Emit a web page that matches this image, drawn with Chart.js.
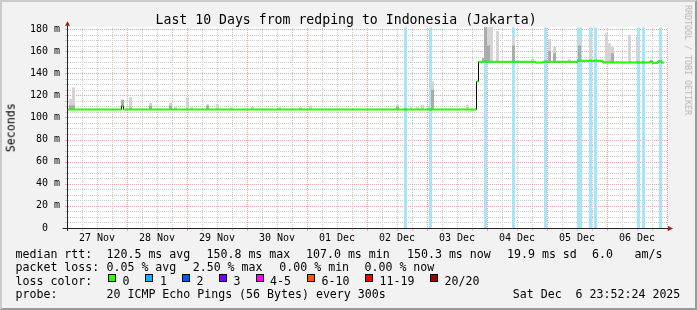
<!DOCTYPE html>
<html><head><meta charset="utf-8">
<script src="https://cdn.jsdelivr.net/npm/chart.js@4/dist/chart.umd.min.js"></script>
<style>
html,body{margin:0;padding:0;}
body{width:697px;height:310px;background:#f2f2f2;position:relative;overflow:hidden;font-family:'DejaVu Sans Mono',monospace;}
#c{position:absolute;left:0;top:0;}
.t{position:absolute;white-space:pre;font-size:11.6px;line-height:1;color:#000;}
.box{position:absolute;width:8px;height:8px;box-sizing:border-box;border:1px solid #000;top:274px;}
#frame{position:absolute;left:0;top:0;width:697px;height:310px;box-sizing:border-box;border:2px solid;border-color:#cbcbcb #9a9a9a #9a9a9a #cbcbcb;pointer-events:none;}
</style></head>
<body>
<canvas id="c" width="697" height="310"></canvas>
<div class="t" style="left:155.5px;top:12.8px;font-size:13.2px;">Last 10 Days from redping to Indonesia (Jakarta)</div>
<div class="t" style="left:-13.5px;top:121.7px;transform:rotate(-90deg);">Seconds</div>
<div class="t" style="left:632.5px;top:55.8px;font-size:8.3px;color:#b4b4b4;transform:rotate(90deg);">RRDTOOL / TOBI OETIKER</div>

<div class="t" style="left:15.5px;top:248.5px;">median rtt:</div>
<div class="t" style="left:106.5px;top:248.5px;">120.5 ms avg</div>
<div class="t" style="left:206.5px;top:248.5px;">150.8 ms max</div>
<div class="t" style="left:306px;top:248.5px;">107.0 ms min</div>
<div class="t" style="left:407px;top:248.5px;">150.3 ms now</div>
<div class="t" style="left:507px;top:248.5px;">19.9 ms sd</div>
<div class="t" style="left:592px;top:248.5px;">6.0</div>
<div class="t" style="left:634.5px;top:248.5px;">am/s</div>

<div class="t" style="left:15.5px;top:261.9px;">packet loss:</div>
<div class="t" style="left:106.5px;top:261.9px;">0.05 % avg</div>
<div class="t" style="left:192.7px;top:261.9px;">2.50 % max</div>
<div class="t" style="left:279.3px;top:261.9px;">0.00 % min</div>
<div class="t" style="left:364.5px;top:261.9px;">0.00 % now</div>

<div class="t" style="left:15.5px;top:275.7px;">loss color:</div>
<div class="box" style="left:108px;background:#26ff00;"></div><div class="t" style="left:122.5px;top:275.7px;">0</div>
<div class="box" style="left:145px;background:#00b8ff;"></div><div class="t" style="left:160px;top:275.7px;">1</div>
<div class="box" style="left:182px;background:#0059ff;"></div><div class="t" style="left:196.5px;top:275.7px;">2</div>
<div class="box" style="left:219px;background:#7e00ff;"></div><div class="t" style="left:233.5px;top:275.7px;">3</div>
<div class="box" style="left:256px;background:#ff00ff;"></div><div class="t" style="left:270px;top:275.7px;">4-5</div>
<div class="box" style="left:307px;background:#ff5500;"></div><div class="t" style="left:321.5px;top:275.7px;">6-10</div>
<div class="box" style="left:365px;background:#ff0000;"></div><div class="t" style="left:379.5px;top:275.7px;">11-19</div>
<div class="box" style="left:430px;background:#a10000;"></div><div class="t" style="left:444.5px;top:275.7px;">20/20</div>

<div class="t" style="left:15.5px;top:289.2px;">probe:</div>
<div class="t" style="left:106.5px;top:289.2px;">20 ICMP Echo Pings (56 Bytes) every 300s</div>
<div class="t" style="left:512.8px;top:289.2px;">Sat Dec  6 23:52:24 2025</div>
<div id="frame"></div>

<script>
// ---- data (hours since 27 Nov 00:00) ----
const dayLabels = ['27 Nov','28 Nov','29 Nov','30 Nov','01 Dec','02 Dec','03 Dec','04 Dec','05 Dec','06 Dec'];
const yLabels = ['0  ','20 m','40 m','60 m','80 m','100 m','120 m','140 m','160 m','180 m'];

// median rtt (ms): step runs
const medianStart = [0, 21.8, 22.6, 163.8, 164.6, 187.6, 190.4, 204.4, 214.4, 233.2, 234.0, 236.4, 237.8];
const medianValue = [107.2, 110.5, 107.2, 132.5, 150.3, 149.6, 150.3, 151.2, 149.8, 151.0, 149.4, 150.8, 149.6];
const medianEnd = 238.8;

// packet loss samples (1 of 20 lost)
const lossHours = [135.4, 145.4, 167.4, 178.6, 191.4, 204.6, 205.4, 209.4, 211.4, 228.6, 230.6, 237.4];

// smoke (ping spread): sample time, max rtt, inner (denser) rtt
const smokeHours = [1.4, 2.6, 22.2, 25.4, 33.4, 41.4, 43.4, 48.2, 49.8, 56.2, 60.2, 65.8, 74.2, 85, 93.4, 97.4,
  132.2, 137.8, 140.2, 142.2, 145, 146.2, 160.2,
  166.6, 167.4, 168.6, 169.8, 172.2, 178.6, 186.2, 193, 195, 201, 205, 209.4, 215.8, 217, 218.2, 225, 228.2];
const smokeMax = [116.8, 127, 116, 118, 113, 113, 109.5, 118, 109.3, 112, 112, 109.3, 110, 109.3, 109.3, 110.8,
  111.4, 109.3, 109.3, 111.4, 109.5, 132.5, 111.4,
  153.5, 195, 195, 195, 178, 172.5, 153, 171, 164, 152.5, 172.5, 171, 176.3, 167, 164, 174.8, 173];
const smokeInner = [110.8, 111, 116, 109, 110.5, 110.5, null, null, null, 110.8, null, null, null, null, null, null,
  110, null, null, null, null, 125, null,
  153.5, 195, 165, null, null, 165, null, 160, 158, null, 165, null, null, null, 158, null, null];

const Y_MAX = 181.5;

function medianAt(h){ let v = medianValue[0]; for (let i=0;i<medianStart.length;i++){ if (h >= medianStart[i]) v = medianValue[i]; } return v; }

const greenData = [];
medianStart.forEach((s,i)=>{ const e = i+1<medianStart.length ? medianStart[i+1] : medianEnd;
  greenData.push({x:s,y:medianValue[i]},{x:e,y:medianValue[i]},{x:e,y:null}); });
const blackData = medianStart.map((s,i)=>({x:s,y:medianValue[i]}));
blackData.push({x:medianEnd,y:medianValue[medianValue.length-1]});
const blueData = [];
lossHours.forEach(h=>{ const m = medianAt(h); blueData.push({x:h-0.6,y:m},{x:h+0.6,y:m},{x:h+0.6,y:null}); });
const lossData = lossHours.map(h=>({x:h,y:[0,Y_MAX]}));
const smokeOuter = smokeHours.map((h,i)=>({x:h,y:[medianAt(h),smokeMax[i]]}));
const smokeIn = [];
smokeHours.forEach((h,i)=>{ if (smokeInner[i]!==null) smokeIn.push({x:h,y:[medianAt(h),smokeInner[i]]}); });

const RED = '#f2a0a0', GRAY = '#cccccc';
const barCommon = {type:'bar', grouped:false, barThickness:3, borderWidth:0, inflateAmount:0};

const deco = {
  id:'deco',
  beforeDraw(chart){ const {ctx, chartArea:a} = chart; ctx.save(); ctx.fillStyle='#fff';
    ctx.fillRect(a.left,a.top,a.right-a.left,a.bottom-a.top); ctx.restore(); },
  beforeDatasetsDraw(chart){
    const {ctx, chartArea:a, scales:{x,y}} = chart;
    const L = Math.round(a.left), R = Math.round(a.right), T = Math.round(a.top), B = Math.round(a.bottom);
    ctx.save();
    [false,true].forEach(major=>{
      ctx.fillStyle = major ? RED : GRAY;
      y.ticks.forEach(t=>{
        if (t.value===0 || (t.value%20===0)!==major) return;
        const py = Math.round(y.getPixelForValue(t.value));
        for (let px=L+1; px<R; px+=2) ctx.fillRect(px,py,1,1);
        ctx.fillRect(L-2,py,2,1);
      });
      x.ticks.forEach(t=>{
        if (t.value===0 || (t.value%24===0)!==major) return;
        const px = Math.round(x.getPixelForValue(t.value));
        for (let py=T+1; py<B; py+=2) ctx.fillRect(px,py,1,1);
        ctx.fillRect(px,B+1,1,2);
      });
    });
    ctx.restore();
  },
  afterDraw(chart){ const {ctx, chartArea:a} = chart;
    const x0 = Math.round(a.left)+0.5, y0 = Math.round(a.bottom)+0.5;
    ctx.save(); ctx.strokeStyle='#222'; ctx.lineWidth=1; ctx.beginPath();
    ctx.moveTo(x0, a.bottom+3); ctx.lineTo(x0, a.top-2);
    ctx.moveTo(x0-5, y0); ctx.lineTo(a.right+1, y0); ctx.stroke();
    ctx.fillStyle='#9a2020'; ctx.beginPath();
    ctx.moveTo(x0-2.5, a.top-1.5); ctx.lineTo(x0+2.5, a.top-1.5); ctx.lineTo(x0, a.top-6); ctx.closePath(); ctx.fill();
    ctx.beginPath(); ctx.moveTo(a.right, y0-2.5); ctx.lineTo(a.right, y0+2.5); ctx.lineTo(a.right+5, y0); ctx.closePath(); ctx.fill();
    ctx.restore(); }
};

new Chart(document.getElementById('c'), {
  type:'bar',
  data:{datasets:[
    {type:'line', data:greenData, borderColor:'#26ff00', borderWidth:2, pointRadius:0, spanGaps:false, order:0},
    {type:'line', data:blueData, borderColor:'#00b8ff', borderWidth:2, pointRadius:0, spanGaps:false, order:1},
    {type:'line', data:blackData, borderColor:'#000', borderWidth:1, pointRadius:0, stepped:'before', order:2},
    Object.assign({data:smokeIn, backgroundColor:'#ababab', order:3}, barCommon),
    Object.assign({data:smokeOuter, backgroundColor:'#d4d4d4', order:4}, barCommon),
    Object.assign({data:lossData, backgroundColor:'#a6e4fa', order:5}, barCommon)
  ]},
  options:{
    responsive:false, animation:false, devicePixelRatio:1,
    layout:{padding:{top:27.34,right:29,bottom:0,left:0}},
    plugins:{legend:{display:false},tooltip:{enabled:false},title:{display:false}},
    scales:{
      x:{type:'linear', min:0, max:240.4, offset:false,
        grid:{display:false, offset:false, drawTicks:false},
        border:{display:false},
        ticks:{stepSize:6, includeBounds:false, autoSkip:false, maxRotation:0, minRotation:0, padding:4, color:'#000',
          font:{family:'DejaVu Sans Mono', size:10},
          callback:v=> (v%24===12) ? dayLabels[(v-12)/24] : ''},
        afterFit(s){ s.height = 82; }
      },
      y:{type:'linear', min:0, max:Y_MAX,
        grid:{display:false, drawTicks:false},
        border:{display:false},
        ticks:{stepSize:5, includeBounds:false, autoSkip:false, padding:7, color:'#000',
          font:{family:'DejaVu Sans Mono', size:10},
          callback:v=> (v%20===0) ? yLabels[v/20] : ''},
        afterFit(s){ s.width = 67; }
      }
    }
  },
  plugins:[deco]
});
</script>
</body></html>
